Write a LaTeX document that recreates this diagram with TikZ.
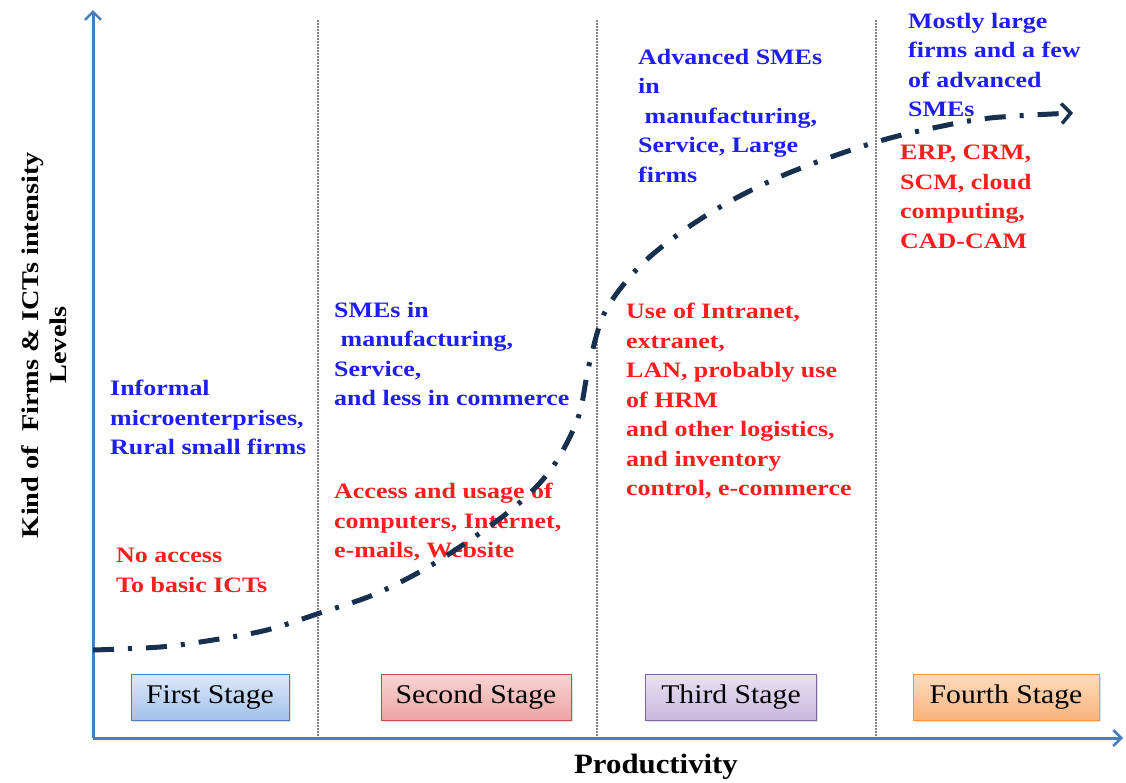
\documentclass[tikz,border=0pt]{standalone}
\usepackage{fontspec}
\setmainfont{Liberation Serif}[FakeStretch=1.1]
\newfontfamily\widefont{Liberation Serif}[FakeStretch=1.18]
\usetikzlibrary{arrows.meta,shadows}

\definecolor{axisblue}{HTML}{4A7EBB}
\definecolor{curvenavy}{HTML}{17304F}
\definecolor{firmblue}{HTML}{1E1EF5}
\definecolor{ictred}{HTML}{FA1E1E}
\definecolor{bluetop}{HTML}{DDE9FA}
\definecolor{bluebot}{HTML}{A3C1EC}
\definecolor{redline}{HTML}{C0504D}
\definecolor{redtop}{HTML}{F9D6D5}
\definecolor{redbot}{HTML}{EDA3A2}
\definecolor{violine}{HTML}{8064A2}
\definecolor{viotop}{HTML}{EAE2F3}
\definecolor{viobot}{HTML}{C9B7DE}
\definecolor{oraline}{HTML}{F79646}
\definecolor{oratop}{HTML}{FDDCC0}
\definecolor{orabot}{HTML}{F9B37B}

\tikzset{
  firms/.style={anchor=north west,inner sep=0pt,align=left,text=firmblue,
    font=\widefont\bfseries\fontsize{22}{29.5}\selectfont},
  icts/.style={firms,text=ictred},
  stagebox/.style n args={3}{draw=#1,line width=1pt,top color=#2,bottom color=#3,
    inner sep=0pt,minimum height=46pt,font=\fontsize{27}{30}\selectfont,
    drop shadow={opacity=.25,shadow xshift=1.5pt,shadow yshift=-1.5pt}},
  divider/.style={draw=gray,line width=2.2pt,dash pattern=on 1.5pt off 1.5pt},
  axis/.style={axisblue,line width=3pt,-{Straight Barb[length=8pt,width=16pt,line width=2.5pt]}}
}

\begin{document}
\begin{tikzpicture}[x=1pt,y=-1pt]
  \useasboundingbox (0,0) rectangle (1126,782);
  % axes
  \coordinate (O) at (93,738);
  \coordinate (ytop) at (93,10);
  \coordinate (xend) at (1123,738);
  % stage dividers
  \foreach \sx in {318,597,876}
    \draw[divider] (\sx,20) -- (\sx,738);
  \draw[axis] (O) -- (ytop);
  \draw[axis] (O) -- (xend);

  % axis labels
  \node[rotate=90,align=center,font=\widefont\bfseries\fontsize{24}{28}\selectfont] (ylab) at (44,345)
    {Kind of~ Firms \& ICTs intensity\\Levels};
  \node[font=\bfseries\fontsize{28}{30}\selectfont] (xlab) at (656,767) {Productivity};

  % stages
  \node[stagebox={axisblue}{bluetop}{bluebot}, minimum width=158pt] (s1) at (210,697) {First Stage};
  \node[stagebox={redline}{redtop}{redbot}, minimum width=190pt] (s2) at (476,697) {Second Stage};
  \node[stagebox={violine}{viotop}{viobot}, minimum width=171pt] (s3) at (731,697) {Third Stage};
  \node[stagebox={oraline}{oratop}{orabot}, minimum width=186pt] (s4) at (1006,697) {Fourth Stage};

  % firm types and ICT use
  \node[firms] (informal) at (110,380) {Informal\\microenterprises,\\Rural small firms};
  \node[icts] (noaccess) at (116,548) {No access\\To basic ICTs};
  \node[firms] (smes) at (334,302) {SMEs in\\\ manufacturing,\\Service,\\and less in commerce};
  \node[icts] (access) at (334,483) {Access and usage of\\computers, Internet,\\e-mails, Website};
  \node[firms] (advanced) at (638,49) {Advanced SMEs\\in\\\ manufacturing,\\Service, Large\\firms};
  \node[icts] (intranet) at (626,303) {Use of Intranet,\\extranet,\\LAN, probably use\\of HRM\\and other logistics,\\and inventory\\control, e-commerce};
  \node[firms] (mostly) at (908,13) {Mostly large\\firms and a few\\of advanced\\SMEs};
  \node[icts] (erp) at (900,145) {ERP, CRM,\\SCM, cloud\\computing,\\CAD-CAM};

  % growth curve
  \coordinate (cstart) at (93,650);
  \coordinate (cend) at (1073,113);
  \draw[curvenavy,line width=5pt,dash pattern=on 21pt off 14pt on 4pt off 14pt,
    -{Straight Barb[length=9pt,width=20pt,line width=3.5pt]}]
    plot[smooth,tension=.55] coordinates {(cstart) (160,647) (213,640) (267,630) (320,613) (373,595) (423,570) (470,540) (517,505)
      (552,468) (578,418) (589,365) (605,312) (638,268) (680,233) (727,203) (777,178) (828,158) (883,140) (933,128) (990,118) (cend)};
\end{tikzpicture}
\end{document}
